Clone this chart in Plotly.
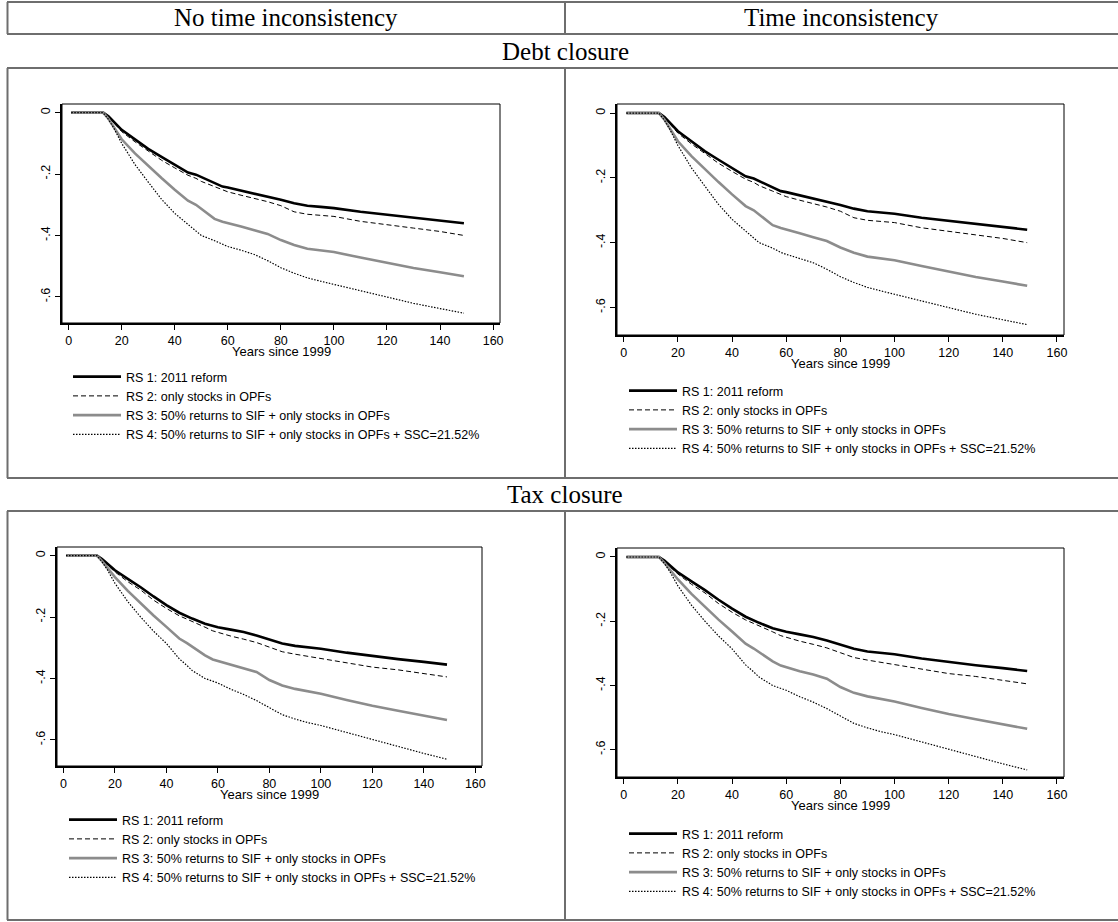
import plotly.graph_objects as go

W, H = 1118, 922

# ---------------- data ----------------
years = [1, 13, 15, 17, 20, 25, 30, 35, 40, 45, 48, 50, 55, 58, 60, 65, 70, 75, 80, 85,
         90, 95, 100, 110, 120, 130, 140, 149]

rs1_debt = [0, 0, -0.012, -0.03, -0.056, -0.087, -0.118, -0.144, -0.169, -0.195, -0.202, -0.21,
            -0.23, -0.241, -0.244, -0.254, -0.262, -0.272, -0.284, -0.295, -0.303, -0.307, -0.311,
            -0.323, -0.333, -0.343, -0.351, -0.36]
rs2_debt = [0, 0, -0.013, -0.032, -0.062, -0.095, -0.126, -0.155, -0.18, -0.204, -0.214, -0.224,
            -0.241, -0.252, -0.258, -0.269, -0.279, -0.29, -0.303, -0.323, -0.331, -0.335, -0.338,
            -0.354, -0.364, -0.376, -0.387, -0.40]
rs3_debt = [0, 0, -0.02, -0.048, -0.087, -0.133, -0.174, -0.213, -0.251, -0.287, -0.3, -0.313,
            -0.346, -0.355, -0.359, -0.371, -0.383, -0.395, -0.415, -0.431, -0.443, -0.449, -0.454,
            -0.472, -0.489, -0.506, -0.52, -0.533]
rs4_debt = [0, 0, -0.022, -0.05, -0.1, -0.169, -0.226, -0.282, -0.328, -0.364, -0.385, -0.4,
            -0.417, -0.43, -0.436, -0.448, -0.462, -0.482, -0.505, -0.523, -0.538, -0.549, -0.559,
            -0.579, -0.6, -0.621, -0.638, -0.653]

rs1_tax = [0, 0, -0.011, -0.027, -0.048, -0.076, -0.103, -0.133, -0.161, -0.186, -0.198, -0.205,
           -0.222, -0.23, -0.233, -0.241, -0.249, -0.26, -0.274, -0.286, -0.294, -0.299, -0.303,
           -0.316, -0.327, -0.337, -0.346, -0.355]
rs2_tax = [0, 0, -0.012, -0.03, -0.053, -0.085, -0.112, -0.145, -0.172, -0.196, -0.207, -0.214,
           -0.233, -0.245, -0.25, -0.262, -0.272, -0.283, -0.298, -0.313, -0.321, -0.328, -0.335,
           -0.349, -0.363, -0.372, -0.383, -0.395]
rs3_tax = [0, 0, -0.018, -0.04, -0.07, -0.115, -0.156, -0.195, -0.232, -0.27, -0.285, -0.297,
           -0.325, -0.338, -0.343, -0.356, -0.366, -0.379, -0.405, -0.423, -0.434, -0.442, -0.45,
           -0.47, -0.489, -0.505, -0.52, -0.535]
rs4_tax = [0, 0, -0.02, -0.045, -0.09, -0.15, -0.2, -0.246, -0.286, -0.336, -0.358, -0.374,
           -0.4, -0.41, -0.415, -0.435, -0.452, -0.472, -0.496, -0.518, -0.532, -0.544, -0.553,
           -0.576, -0.6, -0.622, -0.644, -0.663]

series_names = ["RS 1: 2011 reform",
                "RS 2: only stocks in OPFs",
                "RS 3: 50% returns to SIF + only stocks in OPFs",
                "RS 4: 50% returns to SIF + only stocks in OPFs + SSC=21.52%"]

col_titles = ["No time inconsistency", "Time inconsistency"]
row_titles = ["Debt closure", "Tax closure"]
x_title = "Years since 1999"

x_ticks = [0, 20, 40, 60, 80, 100, 120, 140, 160]
y_ticks = [0, -0.2, -0.4, -0.6]
y_ticklabels = ["0", "-.2", "-.4", "-.6"]

# ---------------- styles / layout helpers ----------------
styles = [dict(color="black", width=2.6),
          dict(color="black", width=1, dash="5px,3px"),
          dict(color="#8c8c8c", width=2.6),
          dict(color="black", width=1.2, dash="1.5px,1.5px")]

def px(x):
    return x / W

def py(y):
    return 1 - y / H

# panel boxes in pixels: (left, top, right, bottom), legend anchor (x, y)
panels = [
    dict(box=(62, 104, 500, 323), leg=(68, 362), data="debt"),
    dict(box=(617, 104, 1064, 335), leg=(624, 376), data="debt"),
    dict(box=(57, 547, 482, 766), leg=(64, 805), data="tax"),
    dict(box=(617, 548, 1064, 777), leg=(624, 819), data="tax"),
]
data_sets = {"debt": [rs1_debt, rs2_debt, rs3_debt, rs4_debt],
             "tax": [rs1_tax, rs2_tax, rs3_tax, rs4_tax]}

XR = [-2.5, 162.6]
YR = [-0.685, 0.028]

sans = "Arial, 'Liberation Sans', sans-serif"
serif = "'Liberation Serif', 'Times New Roman', serif"

fig = go.Figure()
layout = dict(width=W, height=H, margin=dict(l=0, r=0, t=0, b=0, autoexpand=False),
              paper_bgcolor="white", plot_bgcolor="white", showlegend=True)
shapes = []
annotations = []

for i, p in enumerate(panels):
    k = "" if i == 0 else str(i + 1)
    l, t, r, b = p["box"]
    leg_key = "legend" if i == 0 else "legend" + str(i + 1)
    for j, ys in enumerate(data_sets[p["data"]]):
        fig.add_trace(go.Scatter(x=years, y=ys, mode="lines", name=series_names[j],
                                 line=styles[j], xaxis="x" + k, yaxis="y" + k,
                                 legend=leg_key, hoverinfo="skip"))
    layout["xaxis" + k] = dict(domain=[px(l), px(r)], anchor="y" + k, range=XR,
                               automargin=False,
                               tickvals=x_ticks, ticks="outside", ticklen=5, tickwidth=1,
                               tickcolor="black", showline=True, linewidth=2, linecolor="black",
                               showgrid=False, zeroline=False,
                               tickfont=dict(family=sans, size=12.5, color="black"))
    layout["yaxis" + k] = dict(domain=[py(b), py(t)], anchor="x" + k, range=YR,
                               automargin=False,
                               tickvals=y_ticks, ticktext=y_ticklabels, tickangle=-90,
                               ticks="outside", ticklen=5, tickwidth=1, tickcolor="black",
                               showline=True, linewidth=2, linecolor="black",
                               showgrid=False, zeroline=False,
                               tickfont=dict(family=sans, size=12.5, color="black"))
    shapes.append(dict(type="rect", xref="x" + k + " domain", yref="y" + k + " domain",
                       x0=0, x1=1, y0=0, y1=1, line=dict(color="black", width=1),
                       layer="above"))
    annotations.append(dict(text=x_title, xref="paper", yref="paper",
                            x=px((l + r) / 2), y=py(b + 28), xanchor="center", yanchor="middle",
                            showarrow=False, font=dict(family=sans, size=13, color="black")))
    lx, ly = p["leg"]
    layout[leg_key] = dict(x=px(lx), y=py(ly), xanchor="left", yanchor="top",
                           bgcolor="rgba(0,0,0,0)", borderwidth=0, tracegroupgap=0,
                           itemwidth=48,
                           font=dict(family=sans, size=12.5, color="black"))

# ---------------- table frame ----------------
gray = "#6e6e6e"
for yy in [2, 34, 68, 478, 511, 920]:
    shapes.append(dict(type="line", xref="paper", yref="paper", x0=px(7), x1=1.0,
                       y0=py(yy), y1=py(yy), line=dict(color=gray, width=2)))
for (y0, y1) in [(2, 34), (68, 478), (511, 920)]:
    for xx in [7.5, 565]:
        shapes.append(dict(type="line", xref="paper", yref="paper", x0=px(xx), x1=px(xx),
                           y0=py(y0), y1=py(y1), line=dict(color=gray, width=2)))

head_font = dict(family=serif, size=25, color="black")
annotations.append(dict(text=col_titles[0], xref="paper", yref="paper", x=px(286), y=py(18),
                        xanchor="center", yanchor="middle", showarrow=False, font=head_font))
annotations.append(dict(text=col_titles[1], xref="paper", yref="paper", x=px(841), y=py(18),
                        xanchor="center", yanchor="middle", showarrow=False, font=head_font))
annotations.append(dict(text=row_titles[0], xref="paper", yref="paper", x=px(565), y=py(51),
                        xanchor="center", yanchor="middle", showarrow=False, font=head_font))
annotations.append(dict(text=row_titles[1], xref="paper", yref="paper", x=px(565), y=py(494),
                        xanchor="center", yanchor="middle", showarrow=False, font=head_font))

layout["shapes"] = shapes
layout["annotations"] = annotations
fig.update_layout(**layout)
fig.write_html("out.html", config={"displayModeBar": False},
               post_script="document.body.style.margin='0';")
